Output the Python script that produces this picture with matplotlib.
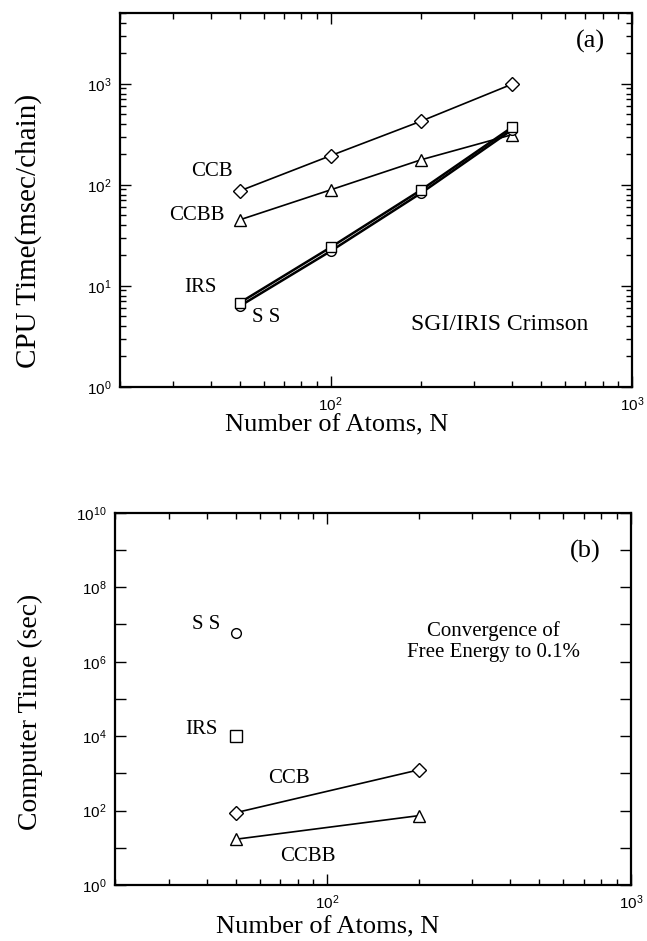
import numpy as np
import matplotlib
matplotlib.use('Agg')
import matplotlib.pyplot as plt
from matplotlib.ticker import LogLocator, FuncFormatter, NullLocator

# panel (a) data: CPU time per chain
N_a = [50, 100, 200, 400]
ccb_a = [87, 194, 427, 990]
ccbb_a = [45, 89, 177, 313]
irs_a = [6.8, 24, 89, 370]
ss_a = [6.3, 22, 83, 350]

# panel (b) data: time to converge free energy
N_b = [50, 200]
ccb_b = [88, 1240]
ccbb_b = [17, 73]
N_ss_b = [50]
ss_b = [5.9e6]
N_irs_b = [50]
irs_b = [1.0e4]

serif = 'Liberation Serif'
sans = 'Liberation Sans'

fig = plt.figure(figsize=(6.47, 9.41), dpi=100)
ax1 = fig.add_axes([0.1855, 0.589, 0.791, 0.397])
ax2 = fig.add_axes([0.178, 0.0595, 0.797, 0.3955])

mk = dict(markerfacecolor='white', markeredgecolor='black', markeredgewidth=1.0, color='black')


def sci(v, pos):
    e = int(round(np.log10(v)))
    return r'$\mathdefault{10^{%d}}$' % e


def sci_even(v, pos):
    e = int(round(np.log10(v)))
    if e % 2:
        return ''
    return r'$\mathdefault{10^{%d}}$' % e


def style(ax):
    ax.set_xscale('log')
    ax.set_yscale('log')
    ax.tick_params(which='both', direction='in', top=True, right=True, width=1.0)
    ax.tick_params(which='major', length=8, labelsize=11, pad=6)
    ax.tick_params(which='minor', length=4)
    for s in ax.spines.values():
        s.set_linewidth(1.6)


# ---- panel (a)
ax1.plot(N_a, ccb_a, marker='D', markersize=7, lw=1.2, **mk)
ax1.plot(N_a, ccbb_a, marker='^', markersize=8, lw=1.2, **mk)
ax1.plot(N_a, ss_a, marker='o', markersize=7, lw=1.8, **mk)
ax1.plot(N_a, irs_a, marker='s', markersize=7, lw=1.8, **mk)
ax1.set_xlim(20, 1000)
ax1.set_ylim(1, 5000)
style(ax1)
ax1.xaxis.set_major_formatter(FuncFormatter(sci))
ax1.yaxis.set_major_formatter(FuncFormatter(sci))
ax1.xaxis.set_minor_formatter(FuncFormatter(lambda v, p: ''))
ax1.yaxis.set_minor_formatter(FuncFormatter(lambda v, p: ''))
for lab in ax1.get_xticklabels() + ax1.get_yticklabels():
    lab.set_family(sans)

ax1.set_xlabel('Number of Atoms, N', family=serif, fontsize=19)
ax1.xaxis.set_label_coords(0.424, -0.074)
ax1.set_ylabel('CPU Time(msec/chain)', family=serif, fontsize=21)
ax1.yaxis.set_label_coords(-0.152, 0.417)
ax1.text(40.5, 135, 'CCB', family=serif, fontsize=15, ha='center', va='center')
ax1.text(36, 50, 'CCBB', family=serif, fontsize=15, ha='center', va='center')
ax1.text(37, 9.6, 'IRS', family=serif, fontsize=15, ha='center', va='center')
ax1.text(61, 4.8, 'S S', family=serif, fontsize=15, ha='center', va='center')
ax1.text(363, 4.1, 'SGI/IRIS Crimson', family=serif, fontsize=17, ha='center', va='center')
ax1.text(730, 2600, '(a)', family=serif, fontsize=19, ha='center', va='center')

# ---- panel (b)
ax2.plot(N_b, ccb_b, marker='D', markersize=7, lw=1.2, **mk)
ax2.plot(N_b, ccbb_b, marker='^', markersize=8, lw=1.2, **mk)
ax2.plot(N_ss_b, ss_b, marker='o', markersize=7, lw=0, **mk)
ax2.plot(N_irs_b, irs_b, marker='s', markersize=8, lw=0, **mk)
ax2.set_xlim(20, 1000)
ax2.set_ylim(1, 1e10)
style(ax2)
ax2.yaxis.set_major_locator(LogLocator(base=10, numticks=12))
ax2.yaxis.set_minor_locator(NullLocator())
ax2.xaxis.set_major_formatter(FuncFormatter(sci))
ax2.xaxis.set_minor_formatter(FuncFormatter(lambda v, p: ''))
ax2.yaxis.set_major_formatter(FuncFormatter(sci_even))
for lab in ax2.get_xticklabels() + ax2.get_yticklabels():
    lab.set_family(sans)

ax2.set_xlabel('Number of Atoms, N', family=serif, fontsize=19)
ax2.xaxis.set_label_coords(0.413, -0.084)
ax2.set_ylabel('Computer Time (sec)', family=serif, fontsize=20)
ax2.yaxis.set_label_coords(-0.14, 0.465)
ax2.text(40, 1e7, 'S S', family=serif, fontsize=15, ha='center', va='center')
ax2.text(38.5, 1.5e4, 'IRS', family=serif, fontsize=15, ha='center', va='center')
ax2.text(75, 740, 'CCB', family=serif, fontsize=15, ha='center', va='center')
ax2.text(86.5, 5.8, 'CCBB', family=serif, fontsize=15, ha='center', va='center')
ax2.text(352, 3.5e6, 'Convergence of\nFree Energy to 0.1%', family=serif, fontsize=15,
         ha='center', va='center', linespacing=1.2)
ax2.text(710, 9e8, '(b)', family=serif, fontsize=19, ha='center', va='center')

fig.savefig('out.png', dpi=100)
